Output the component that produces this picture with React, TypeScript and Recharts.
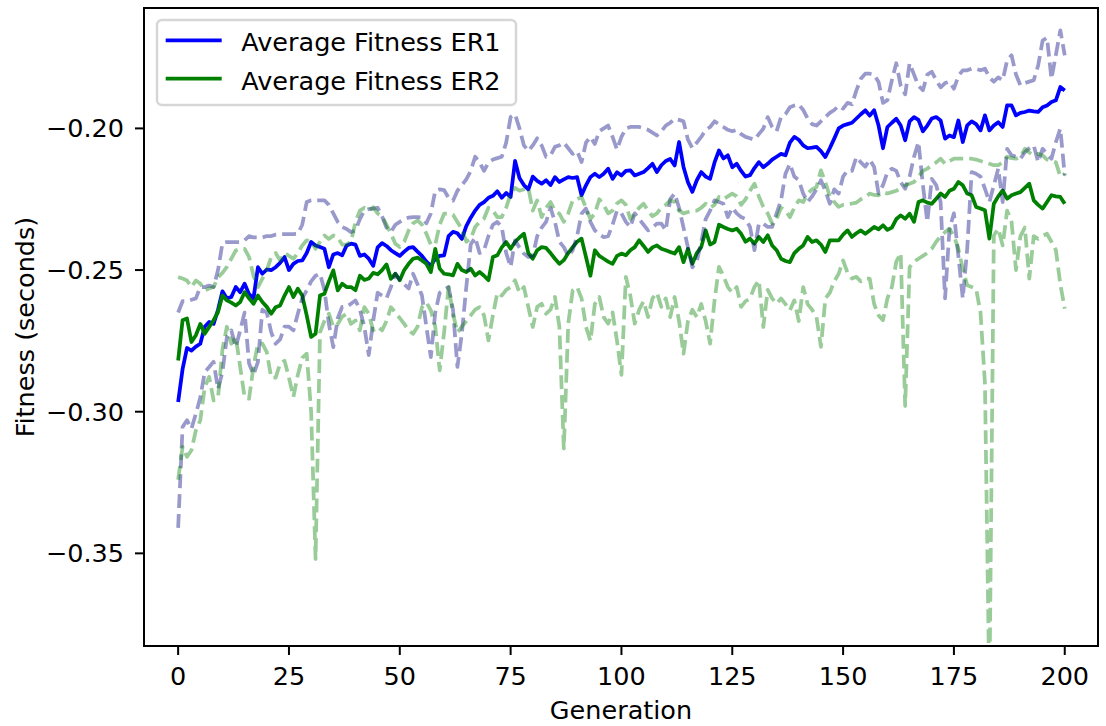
import React from 'react';
import { LineChart, Line, XAxis, YAxis, Legend, ReferenceArea } from 'recharts';

// Generation numbers (x categories)
const generations: number[] = Array.from({ length: 201 }, (_, i) => i);

const xTicks = [0, 25, 50, 75, 100, 125, 150, 175, 200];
const yTicks = [-0.35, -0.3, -0.25, -0.2];

// ER1 average fitness (solid blue)
const er1Mean = [
  -.2966,-.2850,-.2775,-.2784,-.2770,-.2760,-.2700,-.2683,-.2690,-.2640,
  -.2575,-.2600,-.2595,-.2560,-.2578,-.2548,-.2585,-.2600,-.2490,-.2513,
  -.2498,-.2500,-.2490,-.2475,-.2454,-.2500,-.2478,-.2468,-.2466,-.2440,
  -.2401,-.2413,-.2419,-.2425,-.2490,-.2445,-.2440,-.2448,-.2413,-.2407,
  -.2410,-.2450,-.2445,-.2460,-.2485,-.2420,-.2405,-.2415,-.2430,-.2440,
  -.2450,-.2435,-.2422,-.2419,-.2435,-.2450,-.2470,-.2485,-.2460,-.2450,
  -.2448,-.2380,-.2365,-.2370,-.2390,-.2345,-.2315,-.2290,-.2270,-.2260,
  -.2245,-.2238,-.2222,-.2245,-.2228,-.2242,-.2115,-.2175,-.2200,-.2215,
  -.2170,-.2185,-.2195,-.2183,-.2200,-.2172,-.2189,-.2180,-.2172,-.2175,
  -.2172,-.2236,-.2201,-.2172,-.2160,-.2172,-.2160,-.2142,-.2178,-.2155,
  -.2166,-.2150,-.2148,-.2166,-.2160,-.2154,-.2140,-.2125,-.2154,-.2130,
  -.2115,-.2108,-.2131,-.2048,-.2136,-.2190,-.2224,-.2183,-.2154,-.2170,
  -.2178,-.2120,-.2078,-.2106,-.2095,-.2137,-.2125,-.2150,-.2170,-.2165,
  -.2140,-.2119,-.2137,-.2125,-.2110,-.2100,-.2090,-.2095,-.2050,-.2030,
  -.2040,-.2060,-.2070,-.2068,-.2065,-.2080,-.2101,-.2070,-.2036,-.2000,
  -.1990,-.1985,-.1980,-.1965,-.1950,-.1936,-.1955,-.1936,-.1990,-.2070,
  -.1995,-.1980,-.1966,-.1990,-.2042,-.1975,-.1960,-.1970,-.2010,-.1990,
  -.1965,-.1960,-.1972,-.2036,-.2025,-.2031,-.1972,-.2048,-.1989,-.1975,
  -.1985,-.2007,-.1954,-.2007,-.1990,-.1978,-.1995,-.1919,-.1919,-.1954,
  -.1945,-.1942,-.1937,-.1940,-.1942,-.1925,-.1919,-.1907,-.1901,-.1854,
  -.1866,
];

// ER2 average fitness (solid green)
const er2Mean = [
  -.2819,-.2677,-.2671,-.2754,-.2730,-.2690,-.2725,-.2701,-.2677,-.2648,
  -.2590,-.2607,-.2615,-.2625,-.2613,-.2578,-.2600,-.2619,-.2590,-.2613,
  -.2630,-.2654,-.2631,-.2625,-.2590,-.2560,-.2595,-.2566,-.2590,-.2660,
  -.2736,-.2725,-.2590,-.2584,-.2540,-.2501,-.2572,-.2548,-.2560,-.2560,
  -.2571,-.2520,-.2535,-.2530,-.2510,-.2515,-.2500,-.2480,-.2531,-.2513,
  -.2536,-.2500,-.2478,-.2460,-.2456,-.2466,-.2478,-.2507,-.2425,-.2495,
  -.2513,-.2515,-.2519,-.2478,-.2500,-.2507,-.2495,-.2519,-.2507,-.2520,
  -.2536,-.2454,-.2448,-.2420,-.2401,-.2425,-.2401,-.2385,-.2372,-.2440,
  -.2460,-.2430,-.2419,-.2422,-.2440,-.2460,-.2478,-.2465,-.2440,-.2419,
  -.2400,-.2389,-.2454,-.2520,-.2430,-.2450,-.2460,-.2470,-.2478,-.2450,
  -.2442,-.2448,-.2430,-.2419,-.2395,-.2415,-.2436,-.2420,-.2413,-.2425,
  -.2430,-.2436,-.2442,-.2419,-.2472,-.2425,-.2478,-.2440,-.2419,-.2360,
  -.2410,-.2401,-.2340,-.2348,-.2355,-.2360,-.2354,-.2372,-.2400,-.2389,
  -.2407,-.2383,-.2401,-.2377,-.2413,-.2430,-.2460,-.2468,-.2472,-.2440,
  -.2425,-.2413,-.2383,-.2401,-.2395,-.2410,-.2436,-.2395,-.2395,-.2395,
  -.2375,-.2360,-.2383,-.2370,-.2360,-.2372,-.2360,-.2348,-.2356,-.2342,
  -.2358,-.2350,-.2320,-.2307,-.2319,-.2301,-.2330,-.2260,-.2254,-.2262,
  -.2266,-.2248,-.2230,-.2242,-.2220,-.2213,-.2189,-.2201,-.2230,-.2236,
  -.2277,-.2283,-.2289,-.2389,-.2266,-.2240,-.2219,-.2248,-.2236,-.2230,
  -.2225,-.2210,-.2195,-.2254,-.2270,-.2283,-.2260,-.2236,-.2240,-.2242,
  -.2266,
];

// ER1 upper band (dashed navy)
const er1Upper = [
  -.2650,-.2610,-.2610,-.2605,-.2600,-.2560,-.2560,-.2555,-.2560,-.2500,
  -.2405,-.2401,-.2401,-.2401,-.2401,-.2395,-.2380,-.2385,-.2385,-.2385,
  -.2380,-.2380,-.2375,-.2373,-.2373,-.2373,-.2373,-.2372,-.2340,-.2260,
  -.2254,-.2254,-.2254,-.2254,-.2270,-.2300,-.2330,-.2348,-.2355,-.2366,
  -.2360,-.2320,-.2290,-.2285,-.2283,-.2280,-.2310,-.2350,-.2365,-.2340,
  -.2330,-.2320,-.2315,-.2313,-.2313,-.2315,-.2335,-.2300,-.2220,-.2215,
  -.2218,-.2245,-.2255,-.2220,-.2200,-.2180,-.2150,-.2100,-.2120,-.2150,
  -.2120,-.2110,-.2105,-.2100,-.2050,-.1960,-.1950,-.2000,-.2060,-.2080,
  -.2060,-.2035,-.2060,-.2100,-.2095,-.2065,-.2060,-.2050,-.2070,-.2090,
  -.2080,-.2119,-.2050,-.2030,-.2055,-.2010,-.2000,-.1990,-.2030,-.2075,
  -.2030,-.2000,-.1995,-.1995,-.1995,-.2000,-.2005,-.2015,-.2025,-.2010,
  -.1990,-.1980,-.1966,-.1970,-.1975,-.2040,-.2070,-.2050,-.2030,-.2005,
  -.1995,-.1975,-.1985,-.1995,-.2005,-.2010,-.2005,-.2020,-.2030,-.2035,
  -.2040,-.2020,-.2001,-.1960,-.1995,-.2010,-.1960,-.1950,-.1925,-.1919,
  -.1915,-.1935,-.1965,-.1985,-.1990,-.1975,-.1960,-.1945,-.1935,-.1920,
  -.1930,-.1910,-.1915,-.1866,-.1825,-.1807,-.1807,-.1810,-.1836,-.1910,
  -.1900,-.1830,-.1770,-.1850,-.1880,-.1770,-.1810,-.1850,-.1865,-.1810,
  -.1800,-.1830,-.1855,-.1840,-.1835,-.1860,-.1815,-.1795,-.1795,-.1789,
  -.1790,-.1795,-.1789,-.1820,-.1835,-.1820,-.1830,-.1760,-.1742,-.1810,
  -.1848,-.1840,-.1835,-.1830,-.1778,-.1690,-.1680,-.1825,-.1740,-.1654,
  -.1742,
];

// ER1 lower band (dashed navy)
const er1Lower = [
  -.3410,-.3054,-.3030,-.3060,-.3007,-.2950,-.2860,-.2842,-.2824,-.2920,
  -.2860,-.2736,-.2713,-.2772,-.2713,-.2650,-.2830,-.2870,-.2824,-.2640,
  -.2650,-.2720,-.2760,-.2745,-.2700,-.2700,-.2713,-.2654,-.2600,-.2572,
  -.2540,-.2520,-.2513,-.2570,-.2690,-.2772,-.2670,-.2630,-.2630,-.2619,
  -.2607,-.2640,-.2700,-.2800,-.2680,-.2580,-.2590,-.2600,-.2560,-.2513,
  -.2536,-.2550,-.2565,-.2513,-.2550,-.2590,-.2700,-.2807,-.2650,-.2580,
  -.2570,-.2560,-.2640,-.2842,-.2724,-.2560,-.2410,-.2385,-.2440,-.2430,
  -.2380,-.2340,-.2330,-.2348,-.2440,-.2489,-.2395,-.2420,-.2442,-.2454,
  -.2450,-.2380,-.2350,-.2330,-.2280,-.2330,-.2400,-.2419,-.2450,-.2430,
  -.2380,-.2301,-.2283,-.2330,-.2360,-.2375,-.2384,-.2380,-.2340,-.2290,
  -.2300,-.2330,-.2348,-.2300,-.2320,-.2340,-.2360,-.2350,-.2336,-.2336,
  -.2360,-.2250,-.2230,-.2280,-.2350,-.2420,-.2490,-.2470,-.2400,-.2320,
  -.2290,-.2254,-.2260,-.2266,-.2313,-.2280,-.2300,-.2313,-.2320,-.2348,
  -.2430,-.2336,-.2336,-.2348,-.2348,-.2300,-.2254,-.2160,-.2125,-.2170,
  -.2183,-.2230,-.2260,-.2240,-.2215,-.2183,-.2220,-.2266,-.2215,-.2230,
  -.2170,-.2148,-.2150,-.2101,-.2120,-.2135,-.2110,-.2136,-.2230,-.2200,
  -.2154,-.2142,-.2150,-.2190,-.2213,-.2170,-.2100,-.2048,-.2200,-.2330,
  -.2178,-.2200,-.2260,-.2600,-.2354,-.2300,-.2450,-.2600,-.2424,-.2154,
  -.2160,-.2170,-.2213,-.2260,-.2201,-.2142,-.2260,-.2072,-.2095,-.2100,
  -.2107,-.2084,-.2070,-.2060,-.2119,-.2072,-.2090,-.2107,-.2048,-.2001,
  -.2166,
];

// ER2 upper band (dashed green)
const er2Upper = [
  -.2525,-.2530,-.2537,-.2560,-.2537,-.2548,-.2572,-.2565,-.2560,-.2525,
  -.2510,-.2489,-.2460,-.2431,-.2425,-.2425,-.2454,-.2520,-.2560,-.2530,
  -.2501,-.2454,-.2440,-.2466,-.2440,-.2450,-.2460,-.2440,-.2413,-.2395,
  -.2400,-.2425,-.2400,-.2378,-.2390,-.2378,-.2385,-.2410,-.2410,-.2400,
  -.2330,-.2290,-.2280,-.2290,-.2278,-.2300,-.2310,-.2340,-.2372,-.2407,
  -.2419,-.2400,-.2360,-.2335,-.2325,-.2340,-.2372,-.2410,-.2410,-.2340,
  -.2301,-.2301,-.2305,-.2330,-.2355,-.2400,-.2390,-.2348,-.2330,-.2318,
  -.2280,-.2290,-.2313,-.2313,-.2280,-.2230,-.2210,-.2220,-.2215,-.2210,
  -.2290,-.2254,-.2313,-.2280,-.2260,-.2290,-.2301,-.2330,-.2300,-.2254,
  -.2250,-.2242,-.2280,-.2320,-.2300,-.2250,-.2270,-.2300,-.2290,-.2265,
  -.2254,-.2270,-.2320,-.2300,-.2280,-.2266,-.2290,-.2310,-.2300,-.2280,
  -.2270,-.2254,-.2260,-.2290,-.2300,-.2295,-.2290,-.2290,-.2280,-.2266,
  -.2280,-.2270,-.2242,-.2250,-.2240,-.2230,-.2240,-.2270,-.2250,-.2220,
  -.2195,-.2240,-.2277,-.2300,-.2336,-.2320,-.2280,-.2290,-.2313,-.2280,
  -.2254,-.2260,-.2230,-.2215,-.2207,-.2148,-.2190,-.2240,-.2260,-.2277,
  -.2270,-.2270,-.2265,-.2262,-.2250,-.2242,-.2230,-.2235,-.2236,-.2225,
  -.2230,-.2225,-.2220,-.2212,-.2201,-.2195,-.2189,-.2170,-.2150,-.2142,
  -.2131,-.2120,-.2107,-.2125,-.2115,-.2107,-.2107,-.2107,-.2107,-.2107,
  -.2110,-.2115,-.2120,-.2125,-.2130,-.2130,-.2120,-.2100,-.2105,-.2107,
  -.2100,-.2072,-.2085,-.2095,-.2090,-.2095,-.2110,-.2115,-.2120,-.2170,
  -.2160,
];

// ER2 lower band (dashed green)
const er2Lower = [
  -.3240,-.3124,-.3159,-.3136,-.3066,-.3030,-.2913,-.2877,-.2960,-.2950,
  -.2780,-.2700,-.2760,-.2736,-.2842,-.2950,-.2954,-.2840,-.2760,-.2760,
  -.2790,-.2880,-.2880,-.2830,-.2820,-.2880,-.2948,-.2870,-.2810,-.2795,
  -.3000,-.3520,-.2720,-.2680,-.2654,-.2701,-.2690,-.2665,-.2654,-.2690,
  -.2678,-.2713,-.2631,-.2654,-.2713,-.2700,-.2713,-.2680,-.2631,-.2650,
  -.2670,-.2690,-.2713,-.2725,-.2700,-.2631,-.2615,-.2642,-.2700,-.2854,
  -.2720,-.2560,-.2654,-.2720,-.2700,-.2680,-.2660,-.2640,-.2631,-.2660,
  -.2748,-.2660,-.2580,-.2590,-.2570,-.2560,-.2536,-.2580,-.2560,-.2631,
  -.2701,-.2630,-.2619,-.2654,-.2640,-.2595,-.2700,-.3130,-.2689,-.2572,
  -.2560,-.2600,-.2700,-.2750,-.2620,-.2595,-.2666,-.2689,-.2650,-.2750,
  -.2870,-.2524,-.2590,-.2689,-.2640,-.2610,-.2666,-.2600,-.2580,-.2630,
  -.2600,-.2666,-.2595,-.2680,-.2795,-.2680,-.2640,-.2666,-.2620,-.2680,
  -.2760,-.2607,-.2489,-.2520,-.2560,-.2580,-.2560,-.2630,-.2610,-.2600,
  -.2560,-.2536,-.2701,-.2570,-.2600,-.2619,-.2600,-.2620,-.2642,-.2607,
  -.2680,-.2560,-.2620,-.2640,-.2666,-.2771,-.2600,-.2580,-.2540,-.2513,
  -.2466,-.2510,-.2530,-.2524,-.2540,-.2530,-.2530,-.2620,-.2660,-.2677,
  -.2600,-.2560,-.2470,-.2440,-.2980,-.2490,-.2470,-.2460,-.2450,-.2440,
  -.2425,-.2400,-.2380,-.2366,-.2354,-.2380,-.2425,-.2495,-.2554,-.2560,
  -.2566,-.2650,-.2900,-.4000,-.2378,-.2354,-.2413,-.2290,-.2330,-.2500,
  -.2380,-.2350,-.2530,-.2380,-.2390,-.2380,-.2372,-.2400,-.2430,-.2550,
  -.2636,
];

const data = generations.map((g, i) => ({
  gen: g,
  er1Mean: er1Mean[i],
  er2Mean: er2Mean[i],
  er1Upper: er1Upper[i],
  er1Lower: er1Lower[i],
  er2Upper: er2Upper[i],
  er2Lower: er2Lower[i],
}));

const X_DOMAIN: [number, number] = [-7.7, 207.5];
const Y_DOMAIN: [number, number] = [-0.3827, -0.1575];

const FONT = 'DejaVu Sans';
const FS = 25.5;
const tickStyle = { fill: '#000', fontSize: FS, fontFamily: FONT };
const axisLineStyle = { stroke: '#000', strokeWidth: 2 };

const fmtY = (v: number) => (v < 0 ? '\u2212' : '') + Math.abs(v).toFixed(2);

const renderLegend = (props: any) => {
  const items = (props.payload || []).filter((p: any) => p.type !== 'none');
  return (
    <svg width={364} height={91} style={{ display: 'block', overflow: 'visible' }}>
      <rect
        x={2}
        y={2}
        width={359}
        height={85}
        rx={5}
        ry={5}
        fill="rgba(255,255,255,0.8)"
        stroke="rgba(204,204,204,0.8)"
        strokeWidth={2.5}
      />
      {items.map((it: any, i: number) => (
        <g key={i}>
          <line
            x1={10.7}
            x2={66.7}
            y1={22.3 + i * 38.4}
            y2={22.3 + i * 38.4}
            stroke={it.color}
            strokeWidth={3.75}
          />
          <text x={86.3} y={33.3 + i * 38.4} fontSize={FS} fontFamily={FONT} fill="#000">
            {it.value}
          </text>
        </g>
      ))}
    </svg>
  );
};

const YLabel = (p: any) => {
  const vb = p.viewBox || { x: 0, y: 8, width: 144, height: 638 };
  const cx = vb.x + 24.5;
  const cy = vb.y + vb.height / 2;
  return (
    <text
      x={cx}
      y={cy}
      transform={`rotate(-90 ${cx} ${cy})`}
      textAnchor="middle"
      dominantBaseline="central"
      fontSize={FS}
      fontFamily={FONT}
      fill="#000"
    >
      Fitness (seconds)
    </text>
  );
};

const XLabel = (p: any) => {
  const vb = p.viewBox || { x: 144, y: 646, width: 954, height: 80 };
  return (
    <text
      x={vb.x + vb.width / 2}
      y={vb.y + 73.3}
      textAnchor="middle"
      fontSize={FS}
      fontFamily={FONT}
      fill="#000"
    >
      Generation
    </text>
  );
};

const dashedCommon = {
  type: 'linear' as const,
  dot: false,
  activeDot: false,
  isAnimationActive: false,
  strokeWidth: 3.75,
  strokeOpacity: 0.4,
  strokeDasharray: '13.9 6',
  strokeLinecap: 'butt' as const,
  strokeLinejoin: 'round' as const,
  legendType: 'none' as const,
};

export default function App() {
  return (
    <div
      style={{
        position: 'absolute',
        left: 0,
        top: 0,
        width: 1106,
        height: 726,
        background: '#fff',
        fontFamily: FONT,
      }}
    >
      <LineChart
        width={1106}
        height={726}
        data={data}
        margin={{ top: 8, right: 8, bottom: 0, left: 0 }}
      >
        <XAxis
          dataKey="gen"
          type="number"
          domain={X_DOMAIN}
          allowDataOverflow
          ticks={xTicks}
          interval={0}
          height={80}
          tickSize={9}
          tickMargin={12}
          tick={tickStyle}
          tickLine={axisLineStyle}
          axisLine={axisLineStyle}
          label={{ content: XLabel }}
        />
        <YAxis
          type="number"
          domain={Y_DOMAIN}
          allowDataOverflow
          ticks={yTicks}
          interval={0}
          width={144}
          tickSize={9}
          tickMargin={11}
          tick={tickStyle}
          tickLine={axisLineStyle}
          axisLine={axisLineStyle}
          tickFormatter={fmtY}
          label={{ content: YLabel }}
        />
        <Line
          dataKey="er1Mean"
          name="Average Fitness ER1"
          type="linear"
          stroke="#0000ff"
          strokeWidth={3.75}
          strokeLinejoin="round"
          dot={false}
          activeDot={false}
          isAnimationActive={false}
        />
        <Line
          dataKey="er2Mean"
          name="Average Fitness ER2"
          type="linear"
          stroke="#008000"
          strokeWidth={3.75}
          strokeLinejoin="round"
          dot={false}
          activeDot={false}
          isAnimationActive={false}
        />
        <Line dataKey="er1Upper" name="ER1 upper" stroke="#000080" {...dashedCommon} />
        <Line dataKey="er1Lower" name="ER1 lower" stroke="#000080" {...dashedCommon} />
        <Line dataKey="er2Upper" name="ER2 upper" stroke="#008000" {...dashedCommon} />
        <Line dataKey="er2Lower" name="ER2 lower" stroke="#008000" {...dashedCommon} />
        <ReferenceArea
          x1={X_DOMAIN[0]}
          x2={X_DOMAIN[1]}
          y1={Y_DOMAIN[0]}
          y2={Y_DOMAIN[1]}
          fill="none"
          fillOpacity={0}
          stroke="#000"
          strokeWidth={2}
          ifOverflow="visible"
        />
        <Legend
          layout="horizontal"
          verticalAlign="middle"
          align="center"
          content={renderLegend}
          wrapperStyle={{ position: 'absolute', left: 155, top: 18, width: 364, height: 91 }}
        />
      </LineChart>
    </div>
  );
}
